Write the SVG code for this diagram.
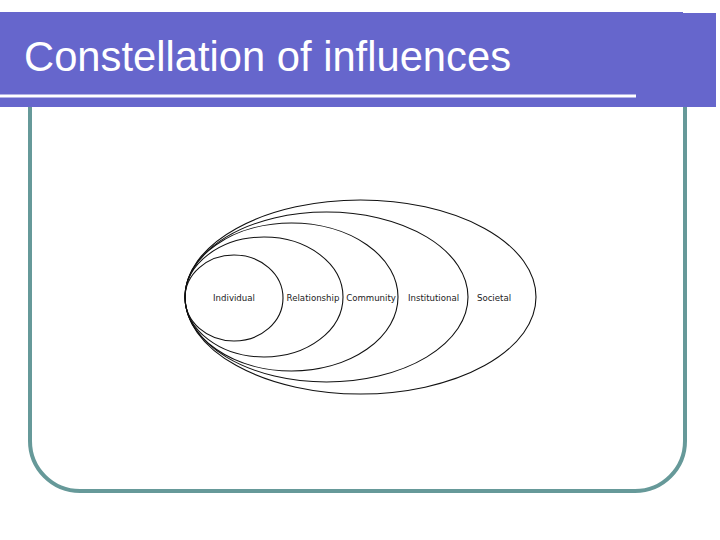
<svg xmlns="http://www.w3.org/2000/svg" width="720" height="540" viewBox="0 0 720 540">
<style>
.ring{fill:none;stroke:#111;stroke-width:1.1}
.lbl{font-family:"DejaVu Sans",Verdana,sans-serif;font-size:8.6px;fill:#222;text-anchor:middle}
</style>
<rect width="720" height="540" fill="#fff"/>
<g id="frame">
<path d="M30,107 V441 A50,50 0 0 0 80,491 H635 A50,50 0 0 0 685,441 V107" fill="none" stroke="#669999" stroke-width="4"/>
</g>
<g id="titlebar">
<path d="M0,12 H683 V13 H716 V107 H0 Z" fill="#6666CC"/>
<rect x="0" y="94.5" width="636" height="3" fill="#fff"/>
<text x="24" y="71" font-family="'Liberation Sans',Arial,sans-serif" font-size="43" fill="#fff" textLength="487" lengthAdjust="spacingAndGlyphs">Constellation of influences</text>
</g>
<g id="societal"><ellipse class="ring" cx="360.5" cy="297" rx="175.5" ry="97"/><text class="lbl" x="494" y="300.5">Societal</text></g>
<g id="institutional"><ellipse class="ring" cx="326.5" cy="297" rx="141.5" ry="85"/><text class="lbl" x="433.5" y="300.5">Institutional</text></g>
<g id="community"><ellipse class="ring" cx="291.5" cy="297" rx="106.5" ry="74"/><text class="lbl" x="371" y="300.5">Community</text></g>
<g id="relationship"><ellipse class="ring" cx="264" cy="297" rx="79" ry="60"/><text class="lbl" x="313" y="300.5">Relationship</text></g>
<g id="individual"><ellipse class="ring" cx="234" cy="298" rx="49" ry="43"/><text class="lbl" x="234" y="300.5">Individual</text></g>
</svg>
